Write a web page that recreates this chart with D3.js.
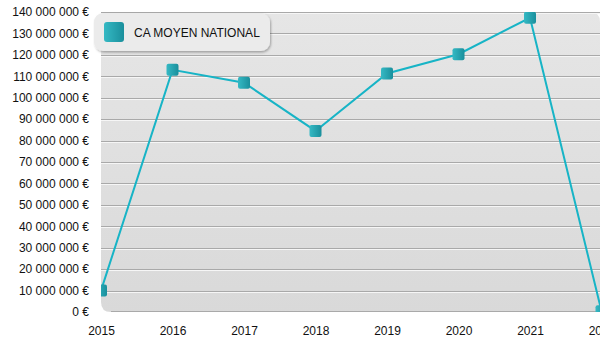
<!DOCTYPE html>
<html>
<head>
<meta charset="utf-8">
<script src="https://cdn.jsdelivr.net/npm/d3@7/dist/d3.min.js"></script>
<style>
  html, body { margin: 0; padding: 0; background: #fff; }
  svg { display: block; font-family: "Liberation Sans", Arial, sans-serif; }
</style>
</head>
<body>
<svg id="chart" width="600" height="350"></svg>
<script>
// Average turnover per year
const years = ["2015", "2016", "2017", "2018", "2019", "2020", "2021", "2022"];
const caMoyen = [10000000, 113000000, 107000000, 84500000, 111300000, 120300000, 137300000, 400000];
const yTicks = [0, 10e6, 20e6, 30e6, 40e6, 50e6, 60e6, 70e6, 80e6, 90e6, 100e6, 110e6, 120e6, 130e6, 140e6];
const seriesName = "CA MOYEN NATIONAL";

const svg = d3.select("#chart");
const margin = { left: 101, top: 12, right: 0, bottom: 38 };
const W = 600, H = 350;
const plotW = W - margin.left - margin.right;
const plotH = H - margin.top - margin.bottom;

const x = d3.scalePoint().domain(years).range([0, 500.5]);
const y = d3.scaleLinear().domain([0, 140e6]).range([plotH, 0]);

const fmt = v => d3.format(",")(v).replace(/,/g, " ") + " €";

const defs = svg.append("defs");
const bg = defs.append("linearGradient").attr("id", "bgGrad").attr("x1", 0).attr("y1", 0).attr("x2", 0).attr("y2", 1);
bg.append("stop").attr("offset", "0%").attr("stop-color", "#e6e6e6");
bg.append("stop").attr("offset", "100%").attr("stop-color", "#d9d9d9");

const mk = defs.append("linearGradient").attr("id", "mkGrad").attr("x1", 0).attr("y1", 0).attr("x2", 1).attr("y2", 0);
mk.append("stop").attr("offset", "0%").attr("stop-color", "#35b9c4");
mk.append("stop").attr("offset", "100%").attr("stop-color", "#1a8f9c");

defs.append("clipPath").attr("id", "plotClip")
  .append("rect").attr("x", 0).attr("y", 0).attr("width", plotW).attr("height", plotH);

const shadow = defs.append("filter").attr("id", "shadow").attr("x", "-10%").attr("y", "-20%").attr("width", "130%").attr("height", "160%");
shadow.append("feDropShadow").attr("dx", 1).attr("dy", 1.5).attr("stdDeviation", 1.2).attr("flood-color", "#000").attr("flood-opacity", 0.3);

const g = svg.append("g").attr("transform", `translate(${margin.left},${margin.top})`);

// plot background with rounded corners
g.append("path")
  .attr("d", (() => {
    const r = 10, w = plotW, h = plotH;
    return `M0,0 H${w - r} Q${w},0 ${w},${r} V${h} H${r} Q0,${h} 0,${h - r} Z`;
  })())
  .attr("fill", "url(#bgGrad)");

// embossed horizontal gridlines
const grid = g.append("g");
grid.selectAll("line.dark").data(yTicks.filter(d => d > 0)).join("line")
  .attr("class", "dark")
  .attr("x1", 0).attr("x2", plotW)
  .attr("y1", d => Math.round(y(d)) + 0.5).attr("y2", d => Math.round(y(d)) + 0.5)
  .attr("stroke", "#a9a9a9").attr("stroke-width", 1);
grid.selectAll("line.light").data(yTicks.filter(d => d > 0)).join("line")
  .attr("class", "light")
  .attr("x1", 0).attr("x2", plotW)
  .attr("y1", d => Math.round(y(d)) + 1.5).attr("y2", d => Math.round(y(d)) + 1.5)
  .attr("stroke", "#f6f6f6").attr("stroke-width", 1);

// bottom edge
g.append("path")
  .attr("d", `M10,${plotH - 0.5} H${plotW}`)
  .attr("stroke", "#a9a9a9").attr("fill", "none");

// y axis
const yAxis = d3.axisLeft(y).tickValues(yTicks).tickFormat(fmt).tickSize(0).tickPadding(12);
const ya = g.append("g").call(yAxis);
ya.select(".domain").remove();
ya.selectAll("text").attr("font-size", 12).attr("fill", "#111").attr("font-family", "Liberation Sans, Arial, sans-serif");

// x axis
const xAxis = d3.axisBottom(x).tickSize(0).tickPadding(14);
const xa = g.append("g").attr("transform", `translate(0,${plotH})`).call(xAxis);
xa.select(".domain").remove();
xa.selectAll("text").attr("font-size", 12).attr("fill", "#111").attr("font-family", "Liberation Sans, Arial, sans-serif");

// series line and markers
const data = years.map((yr, i) => ({ yr, v: caMoyen[i] }));
const plot = g.append("g").attr("clip-path", "url(#plotClip)");
plot.append("path")
  .datum(data)
  .attr("d", d3.line().x(d => x(d.yr)).y(d => y(d.v)))
  .attr("fill", "none")
  .attr("stroke", "#17b4c6")
  .attr("stroke-width", 2);

const ms = 12;
plot.selectAll("rect.pt").data(data).join("rect")
  .attr("class", "pt")
  .attr("x", d => x(d.yr) - ms / 2)
  .attr("y", d => y(d.v) - ms / 2)
  .attr("width", ms).attr("height", ms)
  .attr("rx", 2)
  .attr("fill", "url(#mkGrad)");

// legend
const lg = svg.append("g").attr("transform", "translate(94,13)");
lg.append("rect")
  .attr("width", 176).attr("height", 38)
  .attr("rx", 9)
  .attr("fill", "#ebebeb")
  .attr("filter", "url(#shadow)");
lg.append("rect")
  .attr("x", 10).attr("y", 9).attr("width", 20).attr("height", 20).attr("rx", 3)
  .attr("fill", "url(#mkGrad)");
lg.append("text")
  .attr("x", 40).attr("y", 24)
  .attr("font-size", 12)
  .attr("fill", "#111")
  .text(seriesName);
</script>
</body>
</html>
